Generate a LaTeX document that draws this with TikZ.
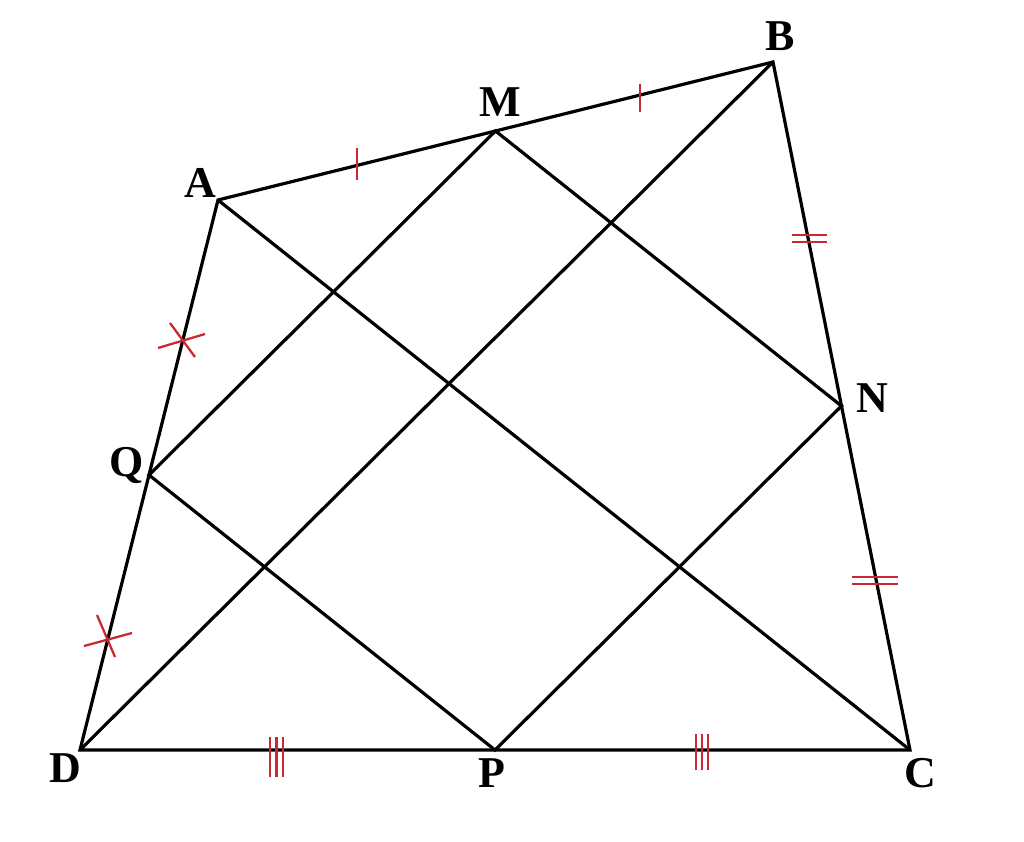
\documentclass[tikz,border=0pt]{standalone}
\usepackage{fontspec}
\setmainfont{Liberation Serif}
\usetikzlibrary{calc}
\definecolor{tickred}{RGB}{200,40,50}
\tikzset{
  edge/.style={line width=2.4pt},
  tick/.style={color=tickred,line width=1.7pt},
  lab/.style={font=\fontsize{33}{36}\selectfont\bfseries}
}
\begin{document}
\begin{tikzpicture}[x=0.75pt,y=0.75pt,yscale=-1,xscale=1]
\useasboundingbox (0,0) rectangle (1024,842);

%vertices and midpoints
\coordinate (A) at (218,200);
\coordinate (B) at (773,62);
\coordinate (C) at (910,750);
\coordinate (D) at (80,750);
\coordinate (M) at ($(A)!0.5!(B)$);
\coordinate (N) at ($(B)!0.5!(C)$);
\coordinate (P) at ($(D)!0.5!(C)$);
\coordinate (Q) at ($(A)!0.5!(D)$);

\draw [edge]  (A) -- (B) -- (C) -- (D) -- cycle ;
\draw [edge]  (A) -- (C) ;
\draw [edge]  (B) -- (D) ;
\draw [edge]  (M) -- (N) -- (P) -- (Q) -- cycle ;

%marks
\draw [tick]  (357,148) -- (357,180) ;
\draw [tick]  (640,84) -- (640,112) ;
\draw [tick]  (792,235) -- (827,235) (792,242) -- (827,242) ;
\draw [tick]  (852,577) -- (898,577) (852,584) -- (898,584) ;
\draw [tick]  (270,737) -- (270,777) (276.5,737) -- (276.5,777) (283,737) -- (283,777) ;
\draw [tick]  (696,734) -- (696,770) (702,734) -- (702,770) (708,734) -- (708,770) ;
\draw [tick]  (158,348) -- (205,334) (170,323) -- (195,357) ;
\draw [tick]  (84,646) -- (132,633) (97,615) -- (115,657) ;

%labels
\draw (200,183) node [lab] (lA) {A};
\draw (780,36) node [lab] (lB) {B};
\draw (500,102) node [lab] (lM) {M};
\draw (872,398) node [lab] (lN) {N};
\draw (127,465) node [lab] (lQ) {Q};
\draw (65,768) node [lab] (lD) {D};
\draw (492,773) node [lab] (lP) {P};
\draw (920,773) node [lab] (lC) {C};

\end{tikzpicture}
\end{document}
